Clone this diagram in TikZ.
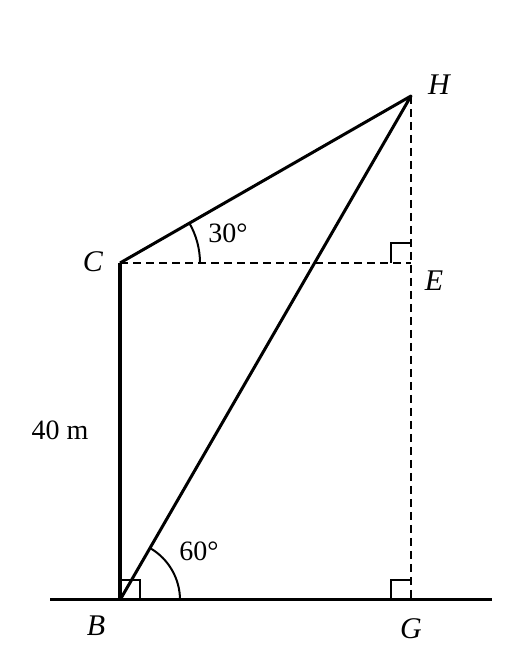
\documentclass[tikz,border=0pt]{standalone}
\usepackage{fontspec}
\setmainfont{Liberation Serif}
\begin{document}
\begin{tikzpicture}[x=1pt,y=1pt,
  mainline/.style={line width=3pt},
  thickline/.style={line width=4.5pt},
  dashline/.style={line width=2pt,dash pattern=on 8pt off 5pt},
  rightmark/.style={line width=2pt},
  anglearc/.style={line width=2pt},
  ptlabel/.style={font=\fontsize{30}{34}\selectfont\itshape,inner sep=0pt},
  numlabel/.style={font=\fontsize{28}{32}\selectfont,inner sep=0pt}]
\useasboundingbox (0,0) rectangle (520,668);
\coordinate (B) at (120,68);
\coordinate (C) at (120,405);
\coordinate (H) at (411,572);
\coordinate (E) at (411,405);
\coordinate (G) at (411,68);
\coordinate (L) at (50,68);
\coordinate (R) at (492,68);
% ground
\draw[mainline] (L) -- (R);
% dashed
\draw[dashline] (C) -- (E);
\draw[dashline] (H) -- (G);
% solid
\draw[thickline] (B) -- (C);
\draw[mainline,line join=round] (C) -- (H) -- (B);
% right angle marks
\draw[rightmark] (B) ++(20,0) -- ++(0,20) -- ++(-20,0);
\draw[rightmark] (G) ++(-20,0) -- ++(0,20) -- ++(20,0);
\draw[rightmark] (E) ++(-20,0) -- ++(0,20) -- ++(20,0);
% angle arcs
\draw[anglearc] (B) ++(60,0) arc[start angle=0,end angle=60,radius=60];
\draw[anglearc] (C) ++(80,0) arc[start angle=0,end angle=30,radius=80];
% labels
\node[ptlabel] (lH) at (439,583) {H};
\node[ptlabel] (lC) at (93,406) {C};
\node[ptlabel] (lE) at (434,387) {E};
\node[ptlabel] (lB) at (96,42) {B};
\node[ptlabel] (lG) at (411,39) {G};
\node[numlabel] (l40) at (60,238) {40 m};
\node[numlabel] (l30) at (228,435) {30°};
\node[numlabel] (l60) at (199,117) {60°};
\end{tikzpicture}
\end{document}
